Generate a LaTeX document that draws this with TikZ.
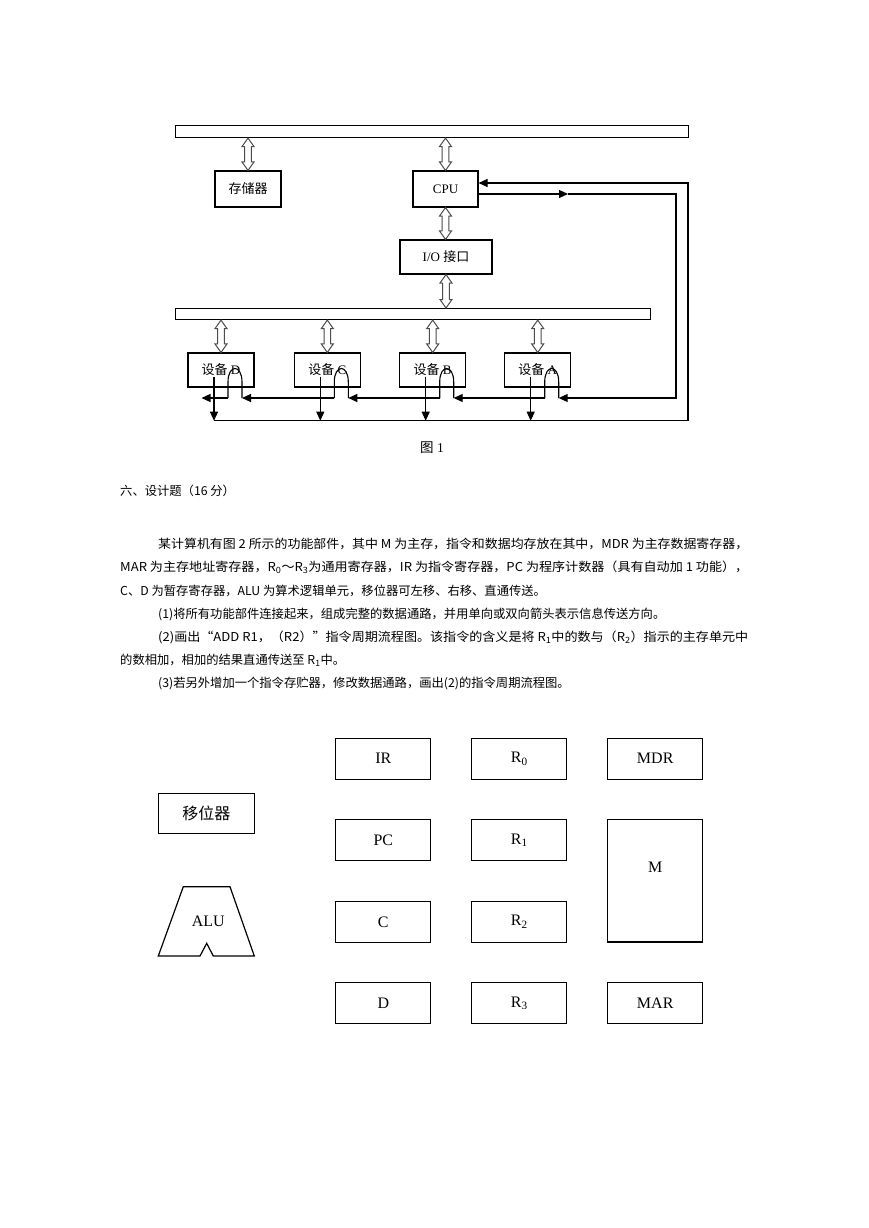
\documentclass[tikz,border=0pt]{standalone}
\usepackage{fontspec}
\setmainfont{Liberation Serif}
\newfontfamily\cjk{Noto Sans CJK SC}
\usepackage{graphicx}
\usetikzlibrary{arrows.meta,calc}

\tikzset{
  box/.style={draw, line width=1.1pt, inner sep=0pt, minimum width=66pt, minimum height=36pt, font=\fontsize{13}{15}\selectfont},
  bus/.style={draw, line width=1.1pt, inner sep=0pt, anchor=north west},
  arr/.style={line width=1.1pt, -{Triangle[length=9pt,width=8pt]}},
  ln/.style={line width=1.1pt},
  hollow/.style={draw=black!70, line width=1pt, fill=white},
  rbox/.style={draw, line width=1.2pt, inner sep=0pt, minimum width=95pt, minimum height=41pt, font=\fontsize{16}{18}\selectfont},
  para/.style={anchor=west, inner sep=0pt, font=\cjk\fontsize{12.3}{14}\selectfont},
}

\newcommand\harrow[2]{%
  \path[hollow] let \p1=#1, \p2=#2 in
  (\x1,\y1) -- (\x1-6pt,\y1-8.5pt) -- (\x1-3.3pt,\y1-8.5pt) -- (\x1-3.3pt,\y2+8.5pt) -- (\x1-6pt,\y2+8.5pt)
  -- (\x1,\y2) -- (\x1+6pt,\y2+8.5pt) -- (\x1+3.3pt,\y2+8.5pt) -- (\x1+3.3pt,\y1-8.5pt) -- (\x1+6pt,\y1-8.5pt) -- cycle;}

\begin{document}
\begin{tikzpicture}[x=1pt,y=-1pt]
\useasboundingbox (0,0) rectangle (869,1228);
\fill[white] (0,0) rectangle (869,1228);

% ---------- Figure 1 ----------
\node[bus, minimum width=513pt, minimum height=12pt] (tbus) at (175,125) {};
\node[bus, minimum width=475pt, minimum height=11pt] (lbus) at (175,308) {};

\node[box] (mem) at (248,189) {\cjk 存储器};
\node[box, minimum width=65pt] (cpu) at (445.5,189) {CPU};
\node[box, minimum width=92pt, minimum height=34pt] (io) at (446,257) {I/O {\cjk 接口}};

\node[box, minimum height=34pt] (devD) at (221,370) {{\cjk 设备} D};
\node[box, minimum height=34pt] (devC) at (327.3,370) {{\cjk 设备} C};
\node[box, minimum height=34pt] (devB) at (432.7,370) {{\cjk 设备} B};
\node[box, minimum height=34pt] (devA) at (537.7,370) {{\cjk 设备} A};

\harrow{(mem.north |- tbus.south)}{(mem.north)}
\harrow{(cpu.north |- tbus.south)}{(cpu.north)}
\harrow{(cpu.south)}{(io.north)}
\harrow{(io.south)}{(io.south |- lbus.north)}
\harrow{(devD.north |- lbus.south)}{(devD.north)}
\harrow{(devC.north |- lbus.south)}{(devC.north)}
\harrow{(devB.north |- lbus.south)}{(devB.north)}
\harrow{(devA.north |- lbus.south)}{(devA.north)}

\foreach \d in {A,B,C,D}{
  \coordinate (\d lf) at ($(dev\d.center)+(7,28)$);
  \coordinate (\d rf) at ($(dev\d.center)+(21,28)$);
  \coordinate (\d vt) at ($(dev\d.center)+(-7,6.5)$);
  \coordinate (\d vb) at ($(dev\d.center)+(-7,50.7)$);
}
\coordinate (Dend) at ($(devD.center)+(-19.5,28)$);

% bumps and device outputs
\foreach \d in {A,B,C,D}{
  \draw[ln] (\d lf) -- ($(\d lf)+(0,-16)$) .. controls ($(\d lf)+(0,-34)$) and ($(\d rf)+(0,-34)$) .. ($(\d rf)+(0,-16)$) -- (\d rf);
  \draw[arr] (\d vt) -- (\d vb);
}
% daisy chain
\draw[arr] (Alf) -- (Brf);
\draw[arr] (Blf) -- (Crf);
\draw[arr] (Clf) -- (Drf);
\draw[arr] (Dlf) -- (Dend);

% loops to CPU
\coordinate (oBR) at (688,420.7);
\coordinate (oTR) at (688,183);
\draw[arr] (Dvb) -- (oBR) -- (oTR) -- ([yshift=6pt]cpu.east);
\coordinate (imid) at (568,194);
\coordinate (iTR) at (676,194);
\coordinate (iBR) at (676,398);
\draw[arr] ([yshift=-5pt]cpu.east) -- (imid);
\draw[arr] (imid) -- (iTR) -- (iBR) -- (Arf);

\node[inner sep=0pt, font=\fontsize{13.5}{15}\selectfont] (fig1) at (432,448) {{\cjk 图} 1};

% ---------- Text ----------
\node[para] (h6) at (120,491) {六、设计题（16 分）};
\node[para] (p1) at (158,544) {\resizebox{590pt}{\height}{某计算机有图 2 所示的功能部件，其中 M 为主存，指令和数据均存放在其中，MDR 为主存数据寄存器，}};
\node[para] (p2) at (120,567.3) {\resizebox{628pt}{\height}{MAR 为主存地址寄存器，R\textsubscript{0}～R\textsubscript{3}为通用寄存器，IR 为指令寄存器，PC 为程序计数器（具有自动加 1 功能），}};
\node[para] (p3) at (120,590.6) {C、D 为暂存寄存器，ALU 为算术逻辑单元，移位器可左移、右移、直通传送。};
\node[para] (p4) at (158,614) {(1)将所有功能部件连接起来，组成完整的数据通路，并用单向或双向箭头表示信息传送方向。};
\node[para] (p5) at (158,637.3) {\resizebox{590pt}{\height}{(2)画出“ADD R1，（R2）”指令周期流程图。该指令的含义是将 R\textsubscript{1}中的数与（R\textsubscript{2}）指示的主存单元中}};
\node[para] (p6) at (120,660.6) {的数相加，相加的结果直通传送至 R\textsubscript{1}中。};
\node[para] (p7) at (158,684) {(3)若另外增加一个指令存贮器，修改数据通路，画出(2)的指令周期流程图。};

% ---------- Figure 2 ----------
\node[rbox] (IR) at (383.3,758.7) {IR};
\node[rbox] (R0) at (519.3,758.7) {R\textsubscript{0}};
\node[rbox] (MDR) at (655.2,758.7) {MDR};
\node[rbox] (PC) at (383.3,840.2) {PC};
\node[rbox] (R1) at (519.3,840.2) {R\textsubscript{1}};
\node[rbox, minimum height=122.7pt] (M) at (655.2,880.7) {};
\node[inner sep=0pt, font=\fontsize{16}{18}\selectfont] (Mlab) at ($(M.north)+(0,49)$) {M};
\node[rbox] (C) at (383.3,921.8) {C};
\node[rbox] (R2) at (519.3,921.8) {R\textsubscript{2}};
\node[rbox] (D) at (383.3,1003.2) {D};
\node[rbox] (R3) at (519.3,1003.2) {R\textsubscript{3}};
\node[rbox] (MAR) at (655.2,1003.2) {MAR};

\node[rbox, minimum width=96pt, minimum height=40.4pt, font=\cjk\fontsize{16}{18}\selectfont] (shifter) at (206.3,813.5) {移位器};
\draw[line width=1.2pt] (183.3,886.7) -- (230,886.7) -- (254.3,956) -- (213.3,956) -- (206.7,943.3) -- (200,956) -- (158.3,956) -- cycle;
\node[inner sep=0pt, font=\fontsize{16}{18}\selectfont] (alu) at (208.3,921.7) {ALU};
\end{tikzpicture}
\end{document}
